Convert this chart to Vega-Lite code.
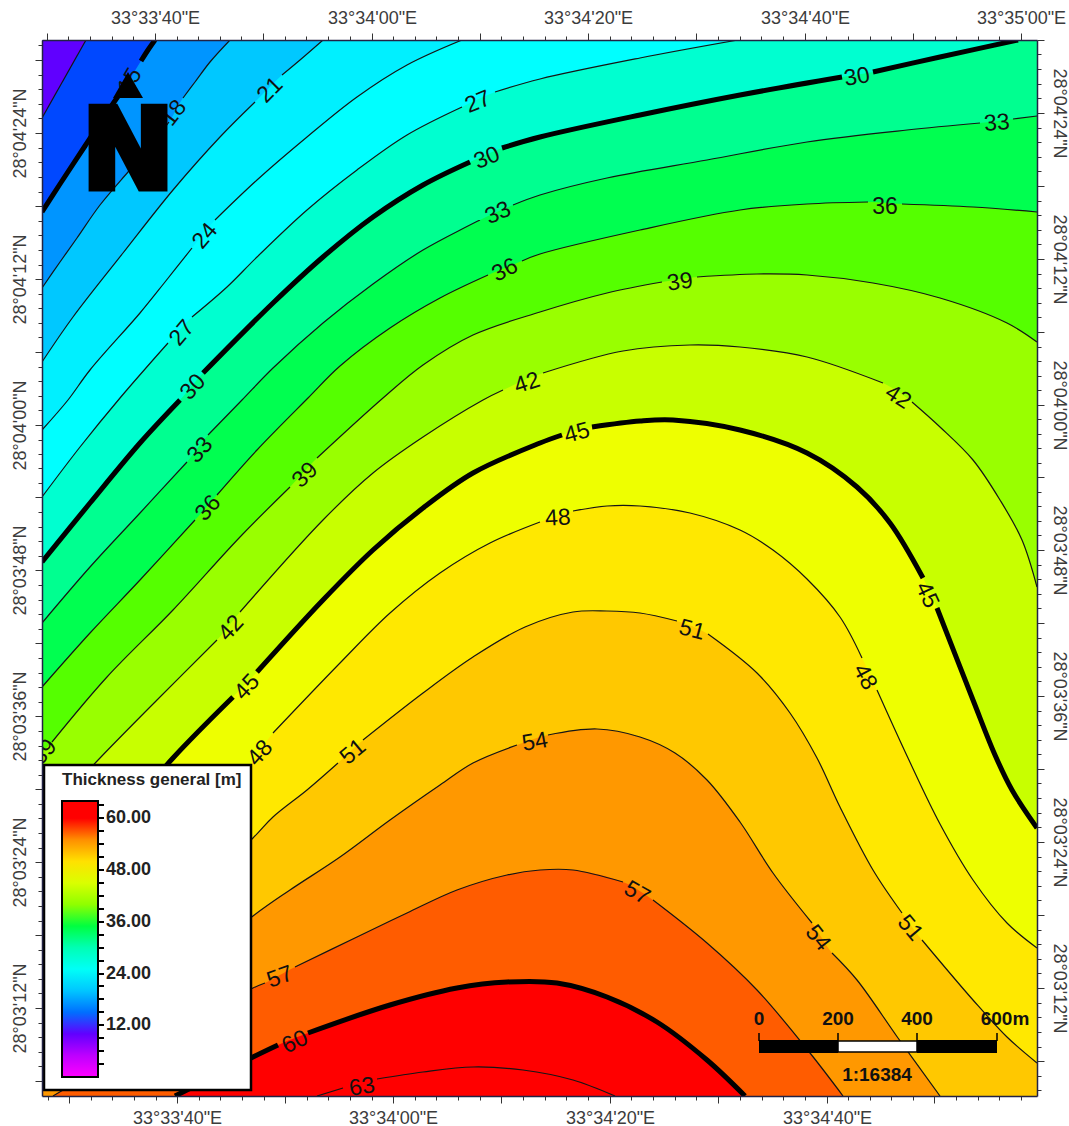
{
"$schema":"https://vega.github.io/schema/vega-lite/v6.json",
"autosize":"none","width":995,"height":1056,
"padding":{"left":42,"top":40,"right":32,"bottom":30},
"background":"white",
"config":{"view":{"stroke":null},"font":"Liberation Sans"},
"datasets":{
"contours":[
{"level":9,"x":42,"y":40,"seg":-1},{"level":9,"x":1037,"y":40,"seg":-1},
{"level":12,"x":42,"y":118,"seg":0},{"level":12,"x":86,"y":40,"seg":0},{"level":12,"x":97,"y":20,"seg":-1},{"level":12,"x":1037,"y":20,"seg":-1},
{"level":15,"x":42,"y":212,"seg":0},{"level":15,"x":60,"y":184,"seg":0},{"level":15,"x":85,"y":146,"seg":0},{"level":15,"x":110,"y":108,"seg":0},{"level":15,"x":124,"y":88,"seg":0},{"level":15,"x":141,"y":61,"seg":1},{"level":15,"x":148,"y":50,"seg":1},{"level":15,"x":155,"y":40,"seg":1},{"level":15,"x":168,"y":20,"seg":-1},{"level":15,"x":1037,"y":20,"seg":-1},
{"level":18,"x":42,"y":288,"seg":0},{"level":18,"x":60,"y":262,"seg":0},{"level":18,"x":77,"y":238,"seg":0},{"level":18,"x":100,"y":205,"seg":0},{"level":18,"x":128,"y":172,"seg":0},{"level":18,"x":150,"y":147,"seg":0},{"level":18,"x":169,"y":122,"seg":0},{"level":18,"x":183,"y":98,"seg":1},{"level":18,"x":195,"y":82,"seg":1},{"level":18,"x":210,"y":62,"seg":1},{"level":18,"x":230,"y":40,"seg":1},{"level":18,"x":253,"y":20,"seg":-1},{"level":18,"x":1037,"y":20,"seg":-1},
{"level":21,"x":42,"y":362,"seg":0},{"level":21,"x":73,"y":317,"seg":0},{"level":21,"x":123,"y":253,"seg":0},{"level":21,"x":173,"y":190,"seg":0},{"level":21,"x":220,"y":137,"seg":0},{"level":21,"x":255,"y":102,"seg":0},{"level":21,"x":282,"y":75,"seg":1},{"level":21,"x":300,"y":60,"seg":1},{"level":21,"x":323,"y":40,"seg":1},{"level":21,"x":350,"y":20,"seg":-1},{"level":21,"x":1037,"y":20,"seg":-1},
{"level":24,"x":42,"y":430,"seg":0},{"level":24,"x":68,"y":400,"seg":0},{"level":24,"x":90,"y":370,"seg":0},{"level":24,"x":140,"y":313,"seg":0},{"level":24,"x":165,"y":282,"seg":0},{"level":24,"x":192,"y":248,"seg":0},{"level":24,"x":215,"y":220,"seg":1},{"level":24,"x":257,"y":180,"seg":1},{"level":24,"x":307,"y":137,"seg":1},{"level":24,"x":357,"y":97,"seg":1},{"level":24,"x":407,"y":65,"seg":1},{"level":24,"x":462,"y":40,"seg":1},{"level":24,"x":510,"y":20,"seg":-1},{"level":24,"x":1037,"y":20,"seg":-1},
{"level":27,"x":42,"y":497,"seg":0},{"level":27,"x":80,"y":447,"seg":0},{"level":27,"x":120,"y":398,"seg":0},{"level":27,"x":168,"y":343,"seg":0},{"level":27,"x":192,"y":317,"seg":1},{"level":27,"x":227,"y":287,"seg":1},{"level":27,"x":257,"y":257,"seg":1},{"level":27,"x":307,"y":210,"seg":1},{"level":27,"x":357,"y":170,"seg":1},{"level":27,"x":407,"y":135,"seg":1},{"level":27,"x":462,"y":107,"seg":1},{"level":27,"x":495,"y":92,"seg":2},{"level":27,"x":540,"y":79,"seg":2},{"level":27,"x":640,"y":58,"seg":2},{"level":27,"x":738,"y":40,"seg":2},{"level":27,"x":845,"y":20,"seg":-1},{"level":27,"x":1037,"y":20,"seg":-1},
{"level":30,"x":42,"y":562,"seg":0},{"level":30,"x":90,"y":503,"seg":0},{"level":30,"x":140,"y":443,"seg":0},{"level":30,"x":180,"y":400,"seg":0},{"level":30,"x":203,"y":373,"seg":1},{"level":30,"x":273,"y":303,"seg":1},{"level":30,"x":323,"y":257,"seg":1},{"level":30,"x":373,"y":217,"seg":1},{"level":30,"x":423,"y":185,"seg":1},{"level":30,"x":470,"y":162,"seg":1},{"level":30,"x":502,"y":148,"seg":2},{"level":30,"x":540,"y":137,"seg":2},{"level":30,"x":640,"y":115,"seg":2},{"level":30,"x":740,"y":95,"seg":2},{"level":30,"x":842,"y":77,"seg":2},{"level":30,"x":873,"y":72,"seg":3},{"level":30,"x":940,"y":57,"seg":3},{"level":30,"x":1018,"y":40,"seg":3},{"level":30,"x":1037,"y":36,"seg":-1},
{"level":33,"x":42,"y":623,"seg":0},{"level":33,"x":90,"y":567,"seg":0},{"level":33,"x":140,"y":513,"seg":0},{"level":33,"x":187,"y":462,"seg":0},{"level":33,"x":208,"y":435,"seg":1},{"level":33,"x":242,"y":400,"seg":1},{"level":33,"x":273,"y":368,"seg":1},{"level":33,"x":323,"y":323,"seg":1},{"level":33,"x":373,"y":284,"seg":1},{"level":33,"x":423,"y":250,"seg":1},{"level":33,"x":480,"y":220,"seg":1},{"level":33,"x":513,"y":205,"seg":2},{"level":33,"x":540,"y":195,"seg":2},{"level":33,"x":607,"y":178,"seg":2},{"level":33,"x":707,"y":160,"seg":2},{"level":33,"x":807,"y":142,"seg":2},{"level":33,"x":907,"y":130,"seg":2},{"level":33,"x":980,"y":123,"seg":2},{"level":33,"x":1013,"y":119,"seg":3},{"level":33,"x":1037,"y":116,"seg":3},
{"level":36,"x":42,"y":687,"seg":0},{"level":36,"x":90,"y":633,"seg":0},{"level":36,"x":140,"y":580,"seg":0},{"level":36,"x":195,"y":520,"seg":0},{"level":36,"x":217,"y":495,"seg":1},{"level":36,"x":257,"y":450,"seg":1},{"level":36,"x":308,"y":398,"seg":1},{"level":36,"x":340,"y":366,"seg":1},{"level":36,"x":390,"y":328,"seg":1},{"level":36,"x":440,"y":298,"seg":1},{"level":36,"x":488,"y":275,"seg":1},{"level":36,"x":522,"y":261,"seg":2},{"level":36,"x":540,"y":254,"seg":2},{"level":36,"x":640,"y":230,"seg":2},{"level":36,"x":740,"y":210,"seg":2},{"level":36,"x":807,"y":204,"seg":2},{"level":36,"x":868,"y":202,"seg":2},{"level":36,"x":902,"y":204,"seg":3},{"level":36,"x":973,"y":207,"seg":3},{"level":36,"x":1037,"y":212,"seg":3},
{"level":39,"x":42,"y":752,"seg":-1},{"level":39,"x":52,"y":742,"seg":0},{"level":39,"x":107,"y":677,"seg":0},{"level":39,"x":173,"y":610,"seg":0},{"level":39,"x":240,"y":537,"seg":0},{"level":39,"x":290,"y":487,"seg":0},{"level":39,"x":317,"y":458,"seg":1},{"level":39,"x":383,"y":398,"seg":1},{"level":39,"x":423,"y":365,"seg":1},{"level":39,"x":473,"y":335,"seg":1},{"level":39,"x":540,"y":312,"seg":1},{"level":39,"x":607,"y":293,"seg":1},{"level":39,"x":662,"y":282,"seg":1},{"level":39,"x":697,"y":277,"seg":2},{"level":39,"x":757,"y":274,"seg":2},{"level":39,"x":807,"y":275,"seg":2},{"level":39,"x":873,"y":283,"seg":2},{"level":39,"x":940,"y":298,"seg":2},{"level":39,"x":1007,"y":323,"seg":2},{"level":39,"x":1037,"y":342,"seg":2},
{"level":42,"x":42,"y":820,"seg":0},{"level":42,"x":100,"y":758,"seg":0},{"level":42,"x":157,"y":700,"seg":0},{"level":42,"x":217,"y":640,"seg":0},{"level":42,"x":240,"y":612,"seg":1},{"level":42,"x":323,"y":520,"seg":1},{"level":42,"x":373,"y":473,"seg":1},{"level":42,"x":423,"y":437,"seg":1},{"level":42,"x":483,"y":400,"seg":1},{"level":42,"x":503,"y":390,"seg":1},{"level":42,"x":543,"y":373,"seg":2},{"level":42,"x":623,"y":351,"seg":2},{"level":42,"x":690,"y":345,"seg":2},{"level":42,"x":740,"y":347,"seg":2},{"level":42,"x":807,"y":357,"seg":2},{"level":42,"x":883,"y":383,"seg":2},{"level":42,"x":912,"y":402,"seg":3},{"level":42,"x":940,"y":427,"seg":3},{"level":42,"x":973,"y":460,"seg":3},{"level":42,"x":1000,"y":500,"seg":3},{"level":42,"x":1022,"y":540,"seg":3},{"level":42,"x":1037,"y":587,"seg":3},
{"level":45,"x":42,"y":905,"seg":0},{"level":45,"x":120,"y":820,"seg":0},{"level":45,"x":173,"y":758,"seg":0},{"level":45,"x":233,"y":697,"seg":0},{"level":45,"x":257,"y":672,"seg":1},{"level":45,"x":323,"y":600,"seg":1},{"level":45,"x":373,"y":550,"seg":1},{"level":45,"x":423,"y":508,"seg":1},{"level":45,"x":473,"y":473,"seg":1},{"level":45,"x":540,"y":443,"seg":1},{"level":45,"x":562,"y":435,"seg":1},{"level":45,"x":592,"y":427,"seg":2},{"level":45,"x":640,"y":421,"seg":2},{"level":45,"x":673,"y":420,"seg":2},{"level":45,"x":740,"y":430,"seg":2},{"level":45,"x":807,"y":453,"seg":2},{"level":45,"x":857,"y":487,"seg":2},{"level":45,"x":890,"y":523,"seg":2},{"level":45,"x":923,"y":578,"seg":2},{"level":45,"x":937,"y":608,"seg":3},{"level":45,"x":973,"y":700,"seg":3},{"level":45,"x":995,"y":755,"seg":3},{"level":45,"x":1012,"y":790,"seg":3},{"level":45,"x":1037,"y":828,"seg":3},
{"level":48,"x":42,"y":975,"seg":0},{"level":48,"x":150,"y":870,"seg":0},{"level":48,"x":245,"y":772,"seg":0},{"level":48,"x":273,"y":733,"seg":1},{"level":48,"x":340,"y":663,"seg":1},{"level":48,"x":390,"y":613,"seg":1},{"level":48,"x":440,"y":573,"seg":1},{"level":48,"x":490,"y":543,"seg":1},{"level":48,"x":540,"y":522,"seg":1},{"level":48,"x":573,"y":511,"seg":2},{"level":48,"x":607,"y":506,"seg":2},{"level":48,"x":640,"y":506,"seg":2},{"level":48,"x":690,"y":513,"seg":2},{"level":48,"x":740,"y":530,"seg":2},{"level":48,"x":773,"y":550,"seg":2},{"level":48,"x":807,"y":579,"seg":2},{"level":48,"x":840,"y":617,"seg":2},{"level":48,"x":862,"y":658,"seg":2},{"level":48,"x":877,"y":690,"seg":3},{"level":48,"x":908,"y":758,"seg":3},{"level":48,"x":940,"y":824,"seg":3},{"level":48,"x":973,"y":880,"seg":3},{"level":48,"x":1007,"y":923,"seg":3},{"level":48,"x":1037,"y":948,"seg":3},
{"level":51,"x":42,"y":1035,"seg":0},{"level":51,"x":150,"y":935,"seg":0},{"level":51,"x":253,"y":838,"seg":0},{"level":51,"x":273,"y":817,"seg":0},{"level":51,"x":307,"y":790,"seg":0},{"level":51,"x":338,"y":763,"seg":0},{"level":51,"x":363,"y":740,"seg":1},{"level":51,"x":423,"y":693,"seg":1},{"level":51,"x":473,"y":657,"seg":1},{"level":51,"x":525,"y":627,"seg":1},{"level":51,"x":573,"y":612,"seg":1},{"level":51,"x":607,"y":611,"seg":1},{"level":51,"x":640,"y":613,"seg":1},{"level":51,"x":677,"y":621,"seg":1},{"level":51,"x":708,"y":634,"seg":2},{"level":51,"x":757,"y":673,"seg":2},{"level":51,"x":790,"y":713,"seg":2},{"level":51,"x":817,"y":758,"seg":2},{"level":51,"x":840,"y":807,"seg":2},{"level":51,"x":873,"y":870,"seg":2},{"level":51,"x":902,"y":913,"seg":2},{"level":51,"x":922,"y":940,"seg":3},{"level":51,"x":973,"y":1000,"seg":3},{"level":51,"x":1007,"y":1037,"seg":3},{"level":51,"x":1037,"y":1063,"seg":3},
{"level":54,"x":42,"y":1088,"seg":0},{"level":54,"x":150,"y":1000,"seg":0},{"level":54,"x":253,"y":916,"seg":0},{"level":54,"x":290,"y":890,"seg":0},{"level":54,"x":340,"y":857,"seg":0},{"level":54,"x":390,"y":820,"seg":0},{"level":54,"x":440,"y":785,"seg":0},{"level":54,"x":473,"y":763,"seg":0},{"level":54,"x":517,"y":745,"seg":0},{"level":54,"x":548,"y":735,"seg":1},{"level":54,"x":597,"y":729,"seg":1},{"level":54,"x":640,"y":737,"seg":1},{"level":54,"x":675,"y":753,"seg":1},{"level":54,"x":707,"y":780,"seg":1},{"level":54,"x":740,"y":822,"seg":1},{"level":54,"x":773,"y":873,"seg":1},{"level":54,"x":812,"y":923,"seg":1},{"level":54,"x":832,"y":953,"seg":2},{"level":54,"x":857,"y":980,"seg":2},{"level":54,"x":898,"y":1038,"seg":2},{"level":54,"x":940,"y":1096,"seg":2},
{"level":57,"x":53,"y":1096,"seg":0},{"level":57,"x":150,"y":1040,"seg":0},{"level":57,"x":253,"y":988,"seg":0},{"level":57,"x":265,"y":983,"seg":0},{"level":57,"x":295,"y":967,"seg":1},{"level":57,"x":357,"y":937,"seg":1},{"level":57,"x":407,"y":913,"seg":1},{"level":57,"x":457,"y":890,"seg":1},{"level":57,"x":507,"y":875,"seg":1},{"level":57,"x":540,"y":870,"seg":1},{"level":57,"x":573,"y":870,"seg":1},{"level":57,"x":623,"y":882,"seg":1},{"level":57,"x":653,"y":900,"seg":2},{"level":57,"x":707,"y":943,"seg":2},{"level":57,"x":757,"y":990,"seg":2},{"level":57,"x":810,"y":1053,"seg":2},{"level":57,"x":843,"y":1096,"seg":2},
{"level":60,"x":175,"y":1096,"seg":0},{"level":60,"x":253,"y":1057,"seg":0},{"level":60,"x":278,"y":1045,"seg":0},{"level":60,"x":308,"y":1033,"seg":1},{"level":60,"x":390,"y":1005,"seg":1},{"level":60,"x":457,"y":988,"seg":1},{"level":60,"x":507,"y":982,"seg":1},{"level":60,"x":557,"y":983,"seg":1},{"level":60,"x":607,"y":997,"seg":1},{"level":60,"x":657,"y":1022,"seg":1},{"level":60,"x":707,"y":1060,"seg":1},{"level":60,"x":745,"y":1096,"seg":1},
{"level":63,"x":317,"y":1096,"seg":0},{"level":63,"x":343,"y":1088,"seg":0},{"level":63,"x":377,"y":1079,"seg":1},{"level":63,"x":423,"y":1072,"seg":1},{"level":63,"x":473,"y":1067,"seg":1},{"level":63,"x":523,"y":1070,"seg":1},{"level":63,"x":573,"y":1080,"seg":1},{"level":63,"x":615,"y":1096,"seg":1}
],
"contourLabels":[
{"level":15,"x":130,"y":81,"angle":-60},{"level":18,"x":174,"y":113,"angle":-52},{"level":21,"x":270,"y":90,"angle":-45},
{"level":24,"x":205,"y":236,"angle":-50},{"level":27,"x":478,"y":102,"angle":-22},{"level":27,"x":182,"y":333,"angle":-50},
{"level":30,"x":857,"y":77,"angle":-10},{"level":30,"x":487,"y":158,"angle":-22},{"level":30,"x":193,"y":387,"angle":-47},
{"level":33,"x":997,"y":123,"angle":-5},{"level":33,"x":498,"y":213,"angle":-24},{"level":33,"x":200,"y":450,"angle":-48},
{"level":36,"x":885,"y":207,"angle":0},{"level":36,"x":505,"y":270,"angle":-26},{"level":36,"x":208,"y":508,"angle":-48},
{"level":39,"x":680,"y":282,"angle":-8},{"level":39,"x":305,"y":475,"angle":-45},{"level":39,"x":44,"y":752,"angle":-48},
{"level":42,"x":898,"y":397,"angle":33},{"level":42,"x":527,"y":383,"angle":-18},{"level":42,"x":231,"y":628,"angle":-47},
{"level":45,"x":927,"y":595,"angle":65},{"level":45,"x":577,"y":433,"angle":-15},{"level":45,"x":247,"y":687,"angle":-47},
{"level":48,"x":865,"y":677,"angle":62},{"level":48,"x":558,"y":518,"angle":-3},{"level":48,"x":260,"y":753,"angle":-48},
{"level":51,"x":910,"y":928,"angle":50},{"level":51,"x":692,"y":630,"angle":15},{"level":51,"x":353,"y":752,"angle":-40},
{"level":54,"x":818,"y":938,"angle":52},{"level":54,"x":535,"y":742,"angle":-10},
{"level":57,"x":637,"y":893,"angle":30},{"level":57,"x":280,"y":977,"angle":-20},
{"level":60,"x":295,"y":1042,"angle":-25},{"level":63,"x":362,"y":1087,"angle":-10}
]
},
"resolve":{"scale":{"color":"independent"},"axis":{"x":"independent","y":"independent"}},
"layer":[
{"data":{"name":"contours"},"mark":{"type":"area","interpolate":"catmull-rom","clip":true},
 "encoding":{
  "x":{"field":"x","type":"quantitative","title":null,"scale":{"domain":[42,1037],"nice":false,"zero":false},
   "axis":{"orient":"top","values":[47,155,263,372,480,588,696,805,913,1021],"grid":false,"tickSize":7,"tickColor":"#333","domainColor":"#224","domainWidth":1.5,"zindex":1,"labelFont":"Liberation Sans","labelFontSize":18,"labelColor":"#3c3c3c","labelPadding":6,"labelOverlap":false,"labelBound":false,"labelFlush":false,
    "labelExpr":"datum.value==155?'33°33\\'40\"E':datum.value==372?'33°34\\'00\"E':datum.value==588?'33°34\\'20\"E':datum.value==805?'33°34\\'40\"E':datum.value==1021?'33°35\\'00\"E':''"}},
  "y":{"field":"y","type":"quantitative","title":null,"scale":{"domain":[40,1096],"reverse":true,"nice":false,"zero":false},
   "axis":{"orient":"left","values":[60,133,206,279,352,425,497,570,643,716,789,862,935,1008,1081],"grid":false,"tickSize":7,"tickColor":"#333","domainColor":"#224","domainWidth":1.5,"zindex":1,"labelFont":"Liberation Sans","labelFontSize":18,"labelColor":"#3c3c3c","labelPadding":6,"labelAngle":270,"labelAlign":"center","labelBaseline":"bottom","labelOverlap":false,"labelBound":false,"labelFlush":false,
    "labelExpr":"datum.value==133?'28°04\\'24\"N':datum.value==279?'28°04\\'12\"N':datum.value==425?'28°04\\'00\"N':datum.value==570?'28°03\\'48\"N':datum.value==716?'28°03\\'36\"N':datum.value==862?'28°03\\'24\"N':datum.value==1008?'28°03\\'12\"N':''"}},
  "y2":{"datum":1096},
  "color":{"field":"level","type":"ordinal","legend":null,"scale":{"domain":[9,12,15,18,21,24,27,30,33,36,39,42,45,48,51,54,57,60,63],"range":["#6000ff","#0048ff","#0095ff","#00c8ff","#00f0ff","#00ffff","#00ffd0","#00ff90","#00ff50","#55ff00","#99ff00","#c8ff00","#eeff00","#ffe800","#ffc800","#ff9800","#ff5c00","#ff0000","#ff0000"]}}
 }},
{"data":{"name":"contours"},"transform":[{"filter":"datum.seg>=0 && datum.level%15!=0"}],
 "mark":{"type":"line","interpolate":"catmull-rom","clip":true,"color":"#151515","strokeWidth":1.2},
 "encoding":{
  "x":{"field":"x","type":"quantitative","scale":{"domain":[42,1037],"nice":false,"zero":false},
   "axis":{"orient":"top","title":null,"values":[68,90,112,133,177,198,220,241,285,306,328,350,393,415,436,458,501,523,545,566,610,631,653,675,718,740,761,783,826,848,870,891,935,956,978,999],"grid":false,"domain":false,"labels":false,"tickSize":4,"tickColor":"#333"}},
  "y":{"field":"y","type":"quantitative","scale":{"domain":[40,1096],"reverse":true,"nice":false,"zero":false},
   "axis":{"orient":"left","title":null,"values":[45,75,89,104,118,148,162,177,192,221,235,250,265,294,308,323,337,367,381,396,410,440,454,468,483,512,527,541,556,585,600,614,629,658,673,687,702,731,746,760,775,804,818,833,848,877,891,906,921,950,964,979,993,1023,1037,1052,1066],"grid":false,"domain":false,"labels":false,"tickSize":4,"tickColor":"#333"}},
  "detail":[{"field":"level","type":"nominal"},{"field":"seg","type":"nominal"}]
 }},
{"data":{"name":"contours"},"transform":[{"filter":"datum.seg>=0 && datum.level%15==0"}],
 "mark":{"type":"line","interpolate":"catmull-rom","clip":true,"color":"#000000","strokeWidth":5},
 "encoding":{
  "x":{"field":"x","type":"quantitative","scale":{"domain":[42,1037],"nice":false,"zero":false},
   "axis":{"orient":"bottom","title":null,"values":[69,177,285,393,501,610,718,827,934],"grid":false,"tickSize":7,"tickColor":"#333","domainColor":"#224","domainWidth":1.5,"zindex":1,"labelFont":"Liberation Sans","labelFontSize":18,"labelColor":"#3c3c3c","labelPadding":6,"labelOverlap":false,"labelBound":false,"labelFlush":false,
    "labelExpr":"datum.value==177?'33°33\\'40\"E':datum.value==393?'33°34\\'00\"E':datum.value==610?'33°34\\'20\"E':datum.value==827?'33°34\\'40\"E':''"}},
  "y":{"field":"y","type":"quantitative","scale":{"domain":[40,1096],"reverse":true,"nice":false,"zero":false},
   "axis":{"orient":"right","title":null,"values":[40,113,186,259,332,405,477,550,623,696,769,842,915,988,1061],"grid":false,"tickSize":7,"tickColor":"#333","domainColor":"#224","domainWidth":1.5,"zindex":1,"labelFont":"Liberation Sans","labelFontSize":18,"labelColor":"#3c3c3c","labelPadding":5,"labelAngle":90,"labelAlign":"center","labelBaseline":"bottom","labelOverlap":false,"labelBound":false,"labelFlush":false,
    "labelExpr":"datum.value==113?'28°04\\'24\"N':datum.value==259?'28°04\\'12\"N':datum.value==405?'28°04\\'00\"N':datum.value==550?'28°03\\'48\"N':datum.value==696?'28°03\\'36\"N':datum.value==842?'28°03\\'24\"N':datum.value==988?'28°03\\'12\"N':''"}},
  "detail":[{"field":"level","type":"nominal"},{"field":"seg","type":"nominal"}]
 }},
{"data":{"name":"contourLabels"},
 "mark":{"type":"text","clip":true,"font":"Liberation Sans","fontSize":23,"color":"#111111","align":"center","baseline":"middle"},
 "encoding":{
  "x":{"field":"x","type":"quantitative","scale":{"domain":[42,1037],"nice":false,"zero":false},
   "axis":{"orient":"bottom","title":null,"values":[48,91,112,134,156,199,220,242,264,307,328,350,372,415,436,458,480,523,545,566,588,631,653,675,696,740,762,783,805,848,870,891,913,956,978,999,1021],"grid":false,"domain":false,"labels":false,"tickSize":4,"tickColor":"#333"}},
  "y":{"field":"y","type":"quantitative","scale":{"domain":[40,1096],"reverse":true,"nice":false,"zero":false},
   "axis":{"orient":"right","title":null,"values":[54,69,84,98,128,142,157,171,201,215,230,244,274,288,303,317,347,361,376,390,419,434,448,463,492,506,521,535,565,579,594,608,638,652,667,681,711,725,740,754,783,798,813,827,857,871,886,900,930,944,959,973,1003,1017,1032,1047,1076,1090],"grid":false,"domain":false,"labels":false,"tickSize":4,"tickColor":"#333"}},
  "text":{"field":"level","type":"nominal"},
  "angle":{"field":"angle","type":"quantitative","scale":null}
 }},
{"data":{"values":[{"x":128,"y":85,"part":"north arrow"}]},
 "mark":{"type":"point","shape":"triangle-up","filled":true,"color":"#000000","opacity":1,"size":900},
 "encoding":{
  "x":{"field":"x","type":"quantitative","axis":null,"scale":{"domain":[42,1037],"nice":false,"zero":false}},
  "y":{"field":"y","type":"quantitative","axis":null,"scale":{"domain":[40,1096],"reverse":true,"nice":false,"zero":false}}
 }},
{"data":{"values":[{"x":128,"y":188,"label":"N"}]},
 "mark":{"type":"text","font":"DejaVu Sans","fontWeight":"bold","fontSize":110,"color":"#000000","stroke":"#000000","strokeWidth":7,"align":"center","baseline":"alphabetic"},
 "encoding":{
  "x":{"field":"x","type":"quantitative","axis":null,"scale":{"domain":[42,1037],"nice":false,"zero":false}},
  "y":{"field":"y","type":"quantitative","axis":null,"scale":{"domain":[40,1096],"reverse":true,"nice":false,"zero":false}},
  "text":{"field":"label","type":"nominal"}
 }},
{"data":{"values":[{"x":44,"x2":251,"y":765,"y2":1090}]},
 "mark":{"type":"rect","fill":"#ffffff","stroke":"#000000","strokeWidth":2.5},
 "encoding":{
  "x":{"field":"x","type":"quantitative","axis":null,"scale":{"domain":[42,1037],"nice":false,"zero":false}},
  "x2":{"field":"x2"},
  "y":{"field":"y","type":"quantitative","axis":null,"scale":{"domain":[40,1096],"reverse":true,"nice":false,"zero":false}},
  "y2":{"field":"y2"}
 }},
{"data":{"values":[{"y":805},{"y":818},{"y":831},{"y":844},{"y":857},{"y":870},{"y":883},{"y":896},{"y":909},{"y":922},{"y":935},{"y":948},{"y":961},{"y":974},{"y":986},{"y":999},{"y":1012},{"y":1025},{"y":1038},{"y":1051},{"y":1064}]},
 "mark":{"type":"rule","color":"#000000","strokeWidth":2},
 "encoding":{
  "x":{"datum":98,"type":"quantitative","axis":null,"scale":{"domain":[42,1037],"nice":false,"zero":false}},
  "x2":{"datum":104},
  "y":{"field":"y","type":"quantitative","axis":null,"scale":{"domain":[40,1096],"reverse":true,"nice":false,"zero":false}}
 }},
{"data":{"values":[{"thickness":0,"x":42,"y":40},{"thickness":64,"x":42,"y":40}]},
 "mark":{"type":"point","filled":true,"size":0,"opacity":1},
 "encoding":{
  "x":{"field":"x","type":"quantitative","axis":null,"scale":{"domain":[42,1037],"nice":false,"zero":false}},
  "y":{"field":"y","type":"quantitative","axis":null,"scale":{"domain":[40,1096],"reverse":true,"nice":false,"zero":false}},
  "color":{"field":"thickness","type":"quantitative",
   "scale":{"domain":[0,12,24,36,48,60,64],"range":["#ff00ff","#0000ff","#00ffff","#00ff00","#ffff00","#ff0000","#ff0000"]},
   "legend":{"title":"Thickness general [m]","orient":"none","legendX":20,"legendY":732,"zindex":1,"direction":"vertical","gradientLength":276,"gradientThickness":36,"gradientStrokeColor":"#000000","gradientStrokeWidth":2,"values":[12,24,36,48,60],"format":".2f","labelFont":"Liberation Sans","labelFontWeight":"bold","labelFontSize":18,"labelColor":"#222222","labelOffset":8,"labelOverlap":false,"titleFont":"Liberation Sans","titleFontWeight":"bold","titleFontSize":17,"titleColor":"#222222","titlePadding":12,"padding":0}}
 }},
{"data":{"values":[{"x":759,"x2":838,"y":1040,"y2":1053},{"x":917,"x2":997,"y":1040,"y2":1053}]},
 "mark":{"type":"rect","fill":"#000000"},
 "encoding":{
  "x":{"field":"x","type":"quantitative","axis":null,"scale":{"domain":[42,1037],"nice":false,"zero":false}},
  "x2":{"field":"x2"},
  "y":{"field":"y","type":"quantitative","axis":null,"scale":{"domain":[40,1096],"reverse":true,"nice":false,"zero":false}},
  "y2":{"field":"y2"}
 }},
{"data":{"values":[{"x":838,"x2":917,"y":1041,"y2":1052}]},
 "mark":{"type":"rect","fill":"#ffffff","stroke":"#000000","strokeWidth":1.5},
 "encoding":{
  "x":{"field":"x","type":"quantitative","axis":null,"scale":{"domain":[42,1037],"nice":false,"zero":false}},
  "x2":{"field":"x2"},
  "y":{"field":"y","type":"quantitative","axis":null,"scale":{"domain":[40,1096],"reverse":true,"nice":false,"zero":false}},
  "y2":{"field":"y2"}
 }},
{"data":{"values":[{"x":759},{"x":838},{"x":917},{"x":997}]},
 "mark":{"type":"rule","color":"#000000","strokeWidth":1.5},
 "encoding":{
  "x":{"field":"x","type":"quantitative","axis":null,"scale":{"domain":[42,1037],"nice":false,"zero":false}},
  "y":{"datum":1033,"type":"quantitative","axis":null,"scale":{"domain":[40,1096],"reverse":true,"nice":false,"zero":false}},
  "y2":{"datum":1041}
 }},
{"data":{"values":[{"x":759,"y":1025,"label":"0"},{"x":838,"y":1025,"label":"200"},{"x":917,"y":1025,"label":"400"},{"x":1005,"y":1025,"label":"600m"},{"x":877,"y":1081,"label":"1:16384"}]},
 "mark":{"type":"text","font":"Liberation Sans","fontWeight":"bold","fontSize":19,"color":"#111111","align":"center","baseline":"alphabetic"},
 "encoding":{
  "x":{"field":"x","type":"quantitative","axis":null,"scale":{"domain":[42,1037],"nice":false,"zero":false}},
  "y":{"field":"y","type":"quantitative","axis":null,"scale":{"domain":[40,1096],"reverse":true,"nice":false,"zero":false}},
  "text":{"field":"label","type":"nominal"}
 }}
]
}
